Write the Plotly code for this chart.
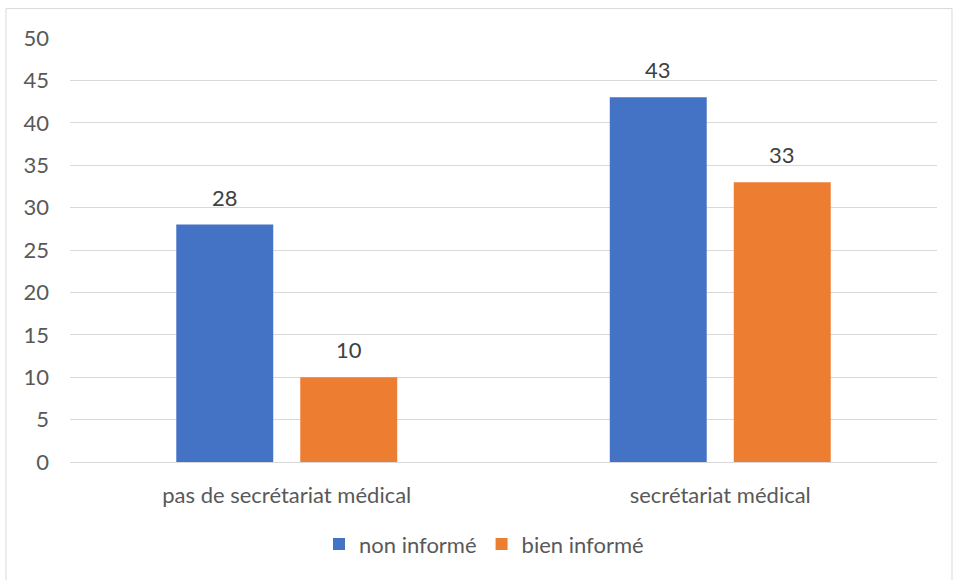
import plotly.graph_objects as go

categories = ["pas de secrétariat médical", "secrétariat médical"]
series_names = ["non informé", "bien informé"]
non_informe = [28, 43]
bien_informe = [10, 33]
y_ticks = [0, 5, 10, 15, 20, 25, 30, 35, 40, 45, 50]

colors = ["#4472C4", "#ED7D31"]
FONT = "Lato, Carlito, Calibri, sans-serif"
FS = 22

fig = go.Figure()
for name, vals, col in zip(series_names, [non_informe, bien_informe], colors):
    fig.add_trace(go.Bar(
        name=name, x=categories, y=vals, marker=dict(color=col, line=dict(width=0)),
        hoverinfo="skip",
    ))

# data labels
annotations = []
n = len(series_names)
for i, vals in enumerate([non_informe, bien_informe]):
    for j, v in enumerate(vals):
        annotations.append(dict(
            x=j, y=v, xref="x", yref="y", text=str(v), showarrow=False,
            yanchor="bottom", yshift=12,
            xshift=(i - (n - 1) / 2) * 124,
            font=dict(family=FONT, size=FS, color="#404040"),
        ))

W, H = 953, 580
L, R, T, B = 70, 16, 37.5, 117.5
pw, ph = W - L - R, H - T - B

fig.update_layout(
    width=W, height=H,
    margin=dict(l=L, r=R, t=T, b=B, pad=0),
    paper_bgcolor="white", plot_bgcolor="white",
    barmode="group", bargap=0.428, bargroupgap=0.218,
    font=dict(family=FONT, size=FS, color="#595959"),
    showlegend=True,
    legend=dict(orientation="h", x=(484 - L) / pw, xanchor="center",
                y=(H - B - 545) / ph, yanchor="middle",
                font=dict(family=FONT, size=FS, color="#595959"),
                itemwidth=30, traceorder="normal"),
    annotations=annotations,
    shapes=[dict(type="rect", xref="paper", yref="paper",
                 x0=(6 - L) / pw, x1=(952 - L) / pw,
                 y0=(H - B - 590) / ph, y1=(H - B - 8) / ph,
                 line=dict(color="#D9D9D9", width=1), fillcolor="rgba(0,0,0,0)",
                 layer="below")],
)
fig.update_yaxes(range=[0, 50], tickvals=y_ticks, showgrid=True, gridcolor="#D9D9D9",
                 gridwidth=1, zeroline=False, showline=False, ticks="",
                 ticklabelstandoff=20, tickfont=dict(family=FONT, size=FS, color="#595959"),
                 fixedrange=True)
fig.update_xaxes(showline=True, linecolor="#D9D9D9", linewidth=1, ticks="",
                 ticklabelstandoff=14, tickfont=dict(family=FONT, size=FS, color="#595959"),
                 fixedrange=True)

fig.write_html("out.html", config={"displayModeBar": False},
               post_script="document.body.style.margin='0px';document.body.style.padding='0px';")
